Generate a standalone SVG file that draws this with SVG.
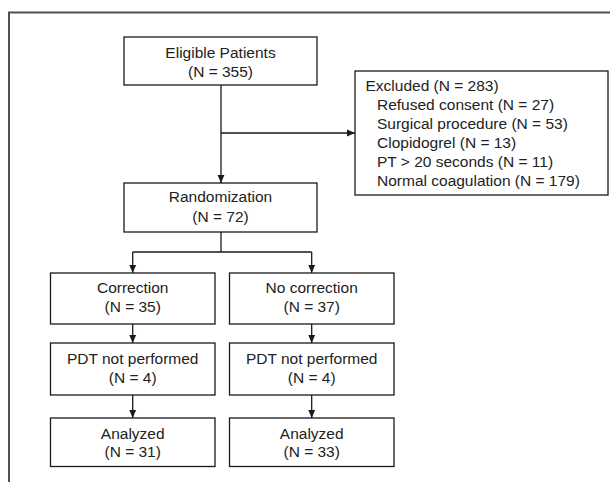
<svg xmlns="http://www.w3.org/2000/svg" width="610" height="482" viewBox="0 0 610 482">
  <defs>
    <marker id="arrow" viewBox="0 0 8 8" refX="8" refY="4" markerWidth="8" markerHeight="8" markerUnits="userSpaceOnUse" orient="auto">
      <path d="M0,0.6 L8,4 L0,7.4 Z" fill="#1a1a1a"/>
    </marker>
  </defs>
  <style>
    .frame { fill: none; stroke: #505050; stroke-width: 2; }
    .box { fill: #ffffff; stroke: #1a1a1a; stroke-width: 1.3; }
    .link { fill: none; stroke: #1a1a1a; stroke-width: 1.3; }
    .arr { marker-end: url(#arrow); }
    text { font-family: "Liberation Sans", Arial, sans-serif; font-size: 15.5px; fill: #222222; }
    .c { text-anchor: middle; }
  </style>

  <rect width="610" height="482" fill="#ffffff"/>

  <!-- outer frame: top and left edges -->
  <path class="frame" d="M9,482 L9,12.5 L610,12.5"/>

  <!-- connectors -->
  <g id="connectors">
    <path class="link arr" d="M221,85 L221,183"/>
    <path class="link arr" d="M221,133 L355,133"/>
    <path class="link" d="M221,232 L221,252 M132.7,252 L311.7,252"/>
    <path class="link arr" d="M132.7,252 L132.7,273"/>
    <path class="link arr" d="M311.7,252 L311.7,273"/>
    <path class="link arr" d="M132.7,324 L132.7,343"/>
    <path class="link arr" d="M311.7,324 L311.7,343"/>
    <path class="link arr" d="M132.7,395 L132.7,418"/>
    <path class="link arr" d="M311.7,395 L311.7,418"/>
  </g>

  <g id="eligible">
    <rect class="box" x="124" y="37" width="193" height="48"/>
    <text class="c" x="220.5" y="58">Eligible Patients</text>
    <text class="c" x="220.5" y="77">(N = 355)</text>
  </g>

  <g id="excluded">
    <rect class="box" x="355" y="71" width="253" height="124"/>
    <text x="365.5" y="91">Excluded (N = 283)</text>
    <text x="377" y="110">Refused consent (N = 27)</text>
    <text x="377" y="129">Surgical procedure (N = 53)</text>
    <text x="377" y="147.5">Clopidogrel (N = 13)</text>
    <text x="377" y="166.5">PT &gt; 20 seconds (N = 11)</text>
    <text x="377" y="185.5">Normal coagulation (N = 179)</text>
  </g>

  <g id="randomization">
    <rect class="box" x="124" y="183" width="193" height="49"/>
    <text class="c" x="220.5" y="202">Randomization</text>
    <text class="c" x="220.5" y="221.5">(N = 72)</text>
  </g>

  <g id="correction">
    <rect class="box" x="50.5" y="273" width="164.5" height="51"/>
    <text class="c" x="132.7" y="292.5">Correction</text>
    <text class="c" x="132.7" y="312">(N = 35)</text>
  </g>

  <g id="no-correction">
    <rect class="box" x="229.5" y="273" width="164.5" height="51"/>
    <text class="c" x="311.7" y="292.5">No correction</text>
    <text class="c" x="311.7" y="312">(N = 37)</text>
  </g>

  <g id="pdt-correction">
    <rect class="box" x="50.5" y="343" width="164.5" height="52"/>
    <text class="c" x="132.7" y="363.5">PDT not performed</text>
    <text class="c" x="132.7" y="383">(N = 4)</text>
  </g>

  <g id="pdt-no-correction">
    <rect class="box" x="229.5" y="343" width="164.5" height="52"/>
    <text class="c" x="311.7" y="363.5">PDT not performed</text>
    <text class="c" x="311.7" y="383">(N = 4)</text>
  </g>

  <g id="analyzed-correction">
    <rect class="box" x="50.5" y="418" width="164.5" height="48.5"/>
    <text class="c" x="132.7" y="438.5">Analyzed</text>
    <text class="c" x="132.7" y="457">(N = 31)</text>
  </g>

  <g id="analyzed-no-correction">
    <rect class="box" x="229.5" y="418" width="164.5" height="48.5"/>
    <text class="c" x="311.7" y="438.5">Analyzed</text>
    <text class="c" x="311.7" y="457">(N = 33)</text>
  </g>
</svg>
